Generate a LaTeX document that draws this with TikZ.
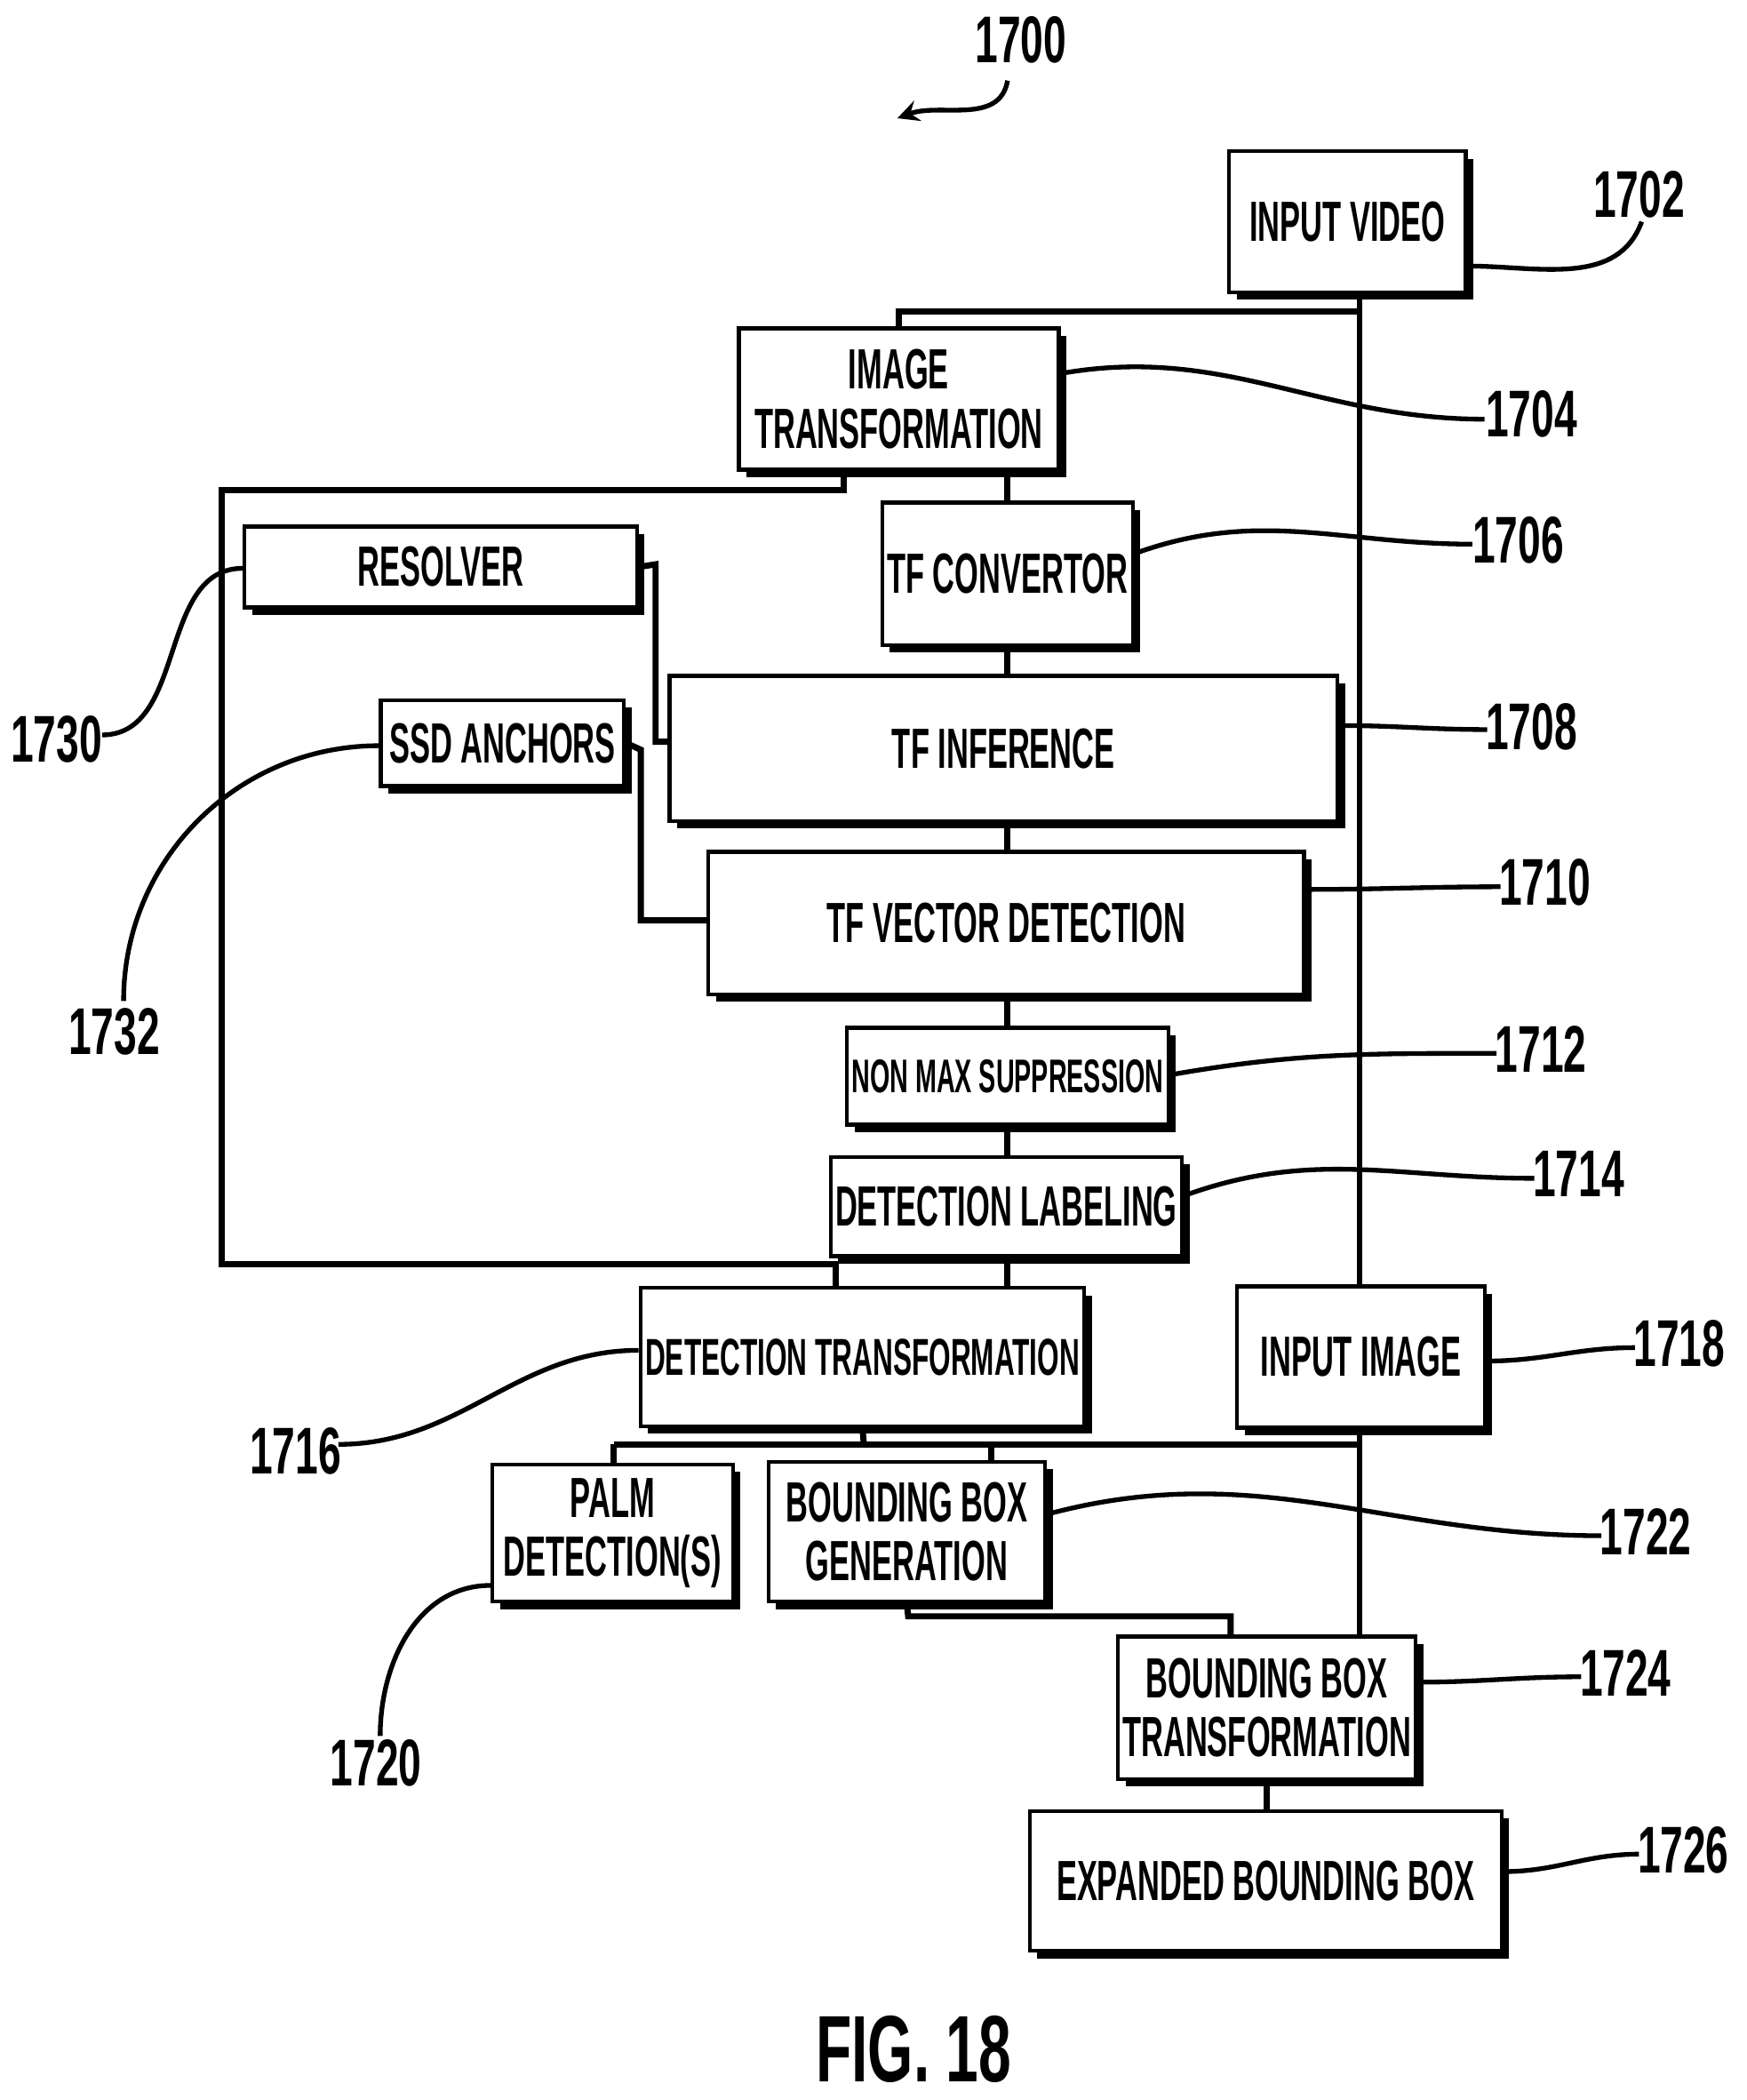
\documentclass[tikz,border=0pt]{standalone}
\usepackage{fontspec}
\setmainfont{Liberation Sans}[FakeStretch=0.54]
\newfontfamily\numfont{Liberation Sans}[FakeStretch=0.62]
\usetikzlibrary{shadows}
\begin{document}
\begin{tikzpicture}[x=0.01cm,y=-0.01cm,line width=1.3pt,
  blk/.style={rectangle,draw=black,fill=white,thick,align=center,inner sep=1pt,
    font=\fontsize{12}{12.5}\selectfont\bfseries,
    drop shadow={shadow xshift=1.6pt,shadow yshift=-1.6pt,fill=black,opacity=1}},
  lbl/.style={font=\numfont\fontsize{14}{15}\selectfont\bfseries},
  lead/.style={line width=1pt}]
\useasboundingbox (0,0) rectangle (1300,1563);
\path
(1003,165) node[blk,minimum width=1.76cm,minimum height=1.05cm] (video) {INPUT VIDEO}
(669,297) node[blk,minimum width=2.38cm,minimum height=1.05cm] (imgtf) {IMAGE\\TRANSFORMATION}
(750,427) node[blk,minimum width=1.76cm,minimum height=1.06cm] (tfconv) {TF CONVERTOR}
(328,422) node[blk,minimum width=2.92cm,minimum height=0.6cm] (resolver) {RESOLVER}
(374,553) node[blk,minimum width=1.81cm,minimum height=0.64cm] (ssd) {SSD ANCHORS}
(747,557) node[blk,minimum width=4.97cm,minimum height=1.08cm] (tfinf) {TF INFERENCE}
(749,687) node[blk,minimum width=4.43cm,minimum height=1.06cm] (tfvec) {TF VECTOR DETECTION}
(750,801) node[blk,minimum width=2.27cm,minimum height=0.72cm] (nms) {\fontsize{10}{11}\selectfont NON MAX SUPPRESSION}
(749,898) node[blk,minimum width=2.57cm,minimum height=0.74cm] (dlabel) {DETECTION LABELING}
(642,1010) node[blk,minimum width=2.98cm,minimum height=1.03cm] (dettf) {\fontsize{11}{12}\selectfont DETECTION TRANSFORMATION}
(1013,1010) node[blk,minimum width=1.84cm,minimum height=1.05cm] (inimg) {INPUT IMAGE}
(456,1141) node[blk,minimum width=1.79cm,minimum height=1.02cm] (palm) {PALM\\DETECTION(S)}
(675,1140) node[blk,minimum width=2.06cm,minimum height=1.04cm] (bbgen) {BOUNDING BOX\\GENERATION}
(943,1271) node[blk,minimum width=2.2cm,minimum height=1.06cm] (bbtf) {BOUNDING BOX\\TRANSFORMATION}
(942,1400) node[blk,minimum width=3.51cm,minimum height=1.04cm] (expbb) {EXPANDED BOUNDING BOX};

% trunk on the right
\draw (video.south -| 1012,0) -- (inimg.north -| 1012,0);
\draw (1012,232) -| (imgtf.north);
\draw (inimg.south -| 1012,0) -- (bbtf.north -| 1012,0);
% main chain
\draw (imgtf.south -| tfconv) -- (tfconv.north);
\draw (tfconv.south) -- (tfinf.north -| tfconv);
\draw (tfinf.south -| tfconv) -- (tfvec.north -| tfconv);
\draw (tfvec.south -| tfconv) -- (nms.north);
\draw (nms.south) -- (dlabel.north -| nms);
\draw (dlabel.south -| nms) -- (dettf.north -| nms);
% bypass loop
\draw (imgtf.south -| 628,0) -- (628,365) -- (165,365) -- (165,941) -- (622,941) -- (dettf.north -| 622,0);
\draw (resolver.east) -- (488,420) -- (488,552) -- (tfinf.west |- 0,552);
\draw (ssd.east) -- (477,558) -- (477,685) -- (tfvec.west |- 0,685);
% lower branches
\draw (dettf.south) -- (643,1075);
\draw (457,1075) -- (1012,1075);
\draw (457,1075) -- (palm.north -| 457,0);
\draw (738,1075) -- (bbgen.north -| 738,0);
\draw (bbgen.south) -- (676,1203) -- (916,1203) -- (bbtf.north -| 916,0);
\draw (bbtf.south) -- (expbb.north -| bbtf);

% reference numerals
\node[lbl] (n1700) at (760,30) {1700};
\draw[lead,-stealth] (750,60) to[out=-100,in=20] (668,88);
\node[lbl] (n1702) at (1220,145) {1702};
\draw[lead] (video.east |- 0,198) to[out=0,in=-110] (1222,165);
\node[lbl] (n1704) at (1140,308) {1704};
\draw[lead] (imgtf.east |- 0,278) to[out=10,in=180] (1105,312);
\node[lbl] (n1706) at (1130,402) {1706};
\draw[lead] (tfconv.east |- 0,412) to[out=20,in=180] (1096,405);
\node[lbl] (n1708) at (1140,541) {1708};
\draw[lead] (tfinf.east |- 0,540) to[out=0,in=180] (1107,543);
\node[lbl] (n1710) at (1150,657) {1710};
\draw[lead] (tfvec.east |- 0,662) to[out=0,in=180] (1117,660);
\node[lbl] (n1712) at (1147,781) {1712};
\draw[lead] (nms.east |- 0,800) to[out=10,in=180] (1114,784);
\node[lbl] (n1714) at (1175,874) {1714};
\draw[lead] (dlabel.east |- 0,890) to[out=20,in=180] (1142,877);
\node[lbl] (n1718) at (1250,1000) {1718};
\draw[lead] (inimg.east |- 0,1013) to[out=0,in=180] (1217,1003);
\node[lbl] (n1722) at (1225,1140) {1722};
\draw[lead] (bbgen.east |- 0,1127) to[out=15,in=180] (1192,1143);
\node[lbl] (n1724) at (1210,1245) {1724};
\draw[lead] (bbtf.east |- 0,1252) to[out=0,in=180] (1177,1248);
\node[lbl] (n1726) at (1253,1377) {1726};
\draw[lead] (expbb.east |- 0,1393) to[out=0,in=180] (1220,1380);
\node[lbl] (n1730) at (42,550) {1730};
\draw[lead] (resolver.west |- 0,423) to[out=180,in=0] (76,547);
\node[lbl] (n1732) at (85,768) {1732};
\draw[lead] (ssd.west |- 0,555) to[out=180,in=90] (92,745);
\node[lbl] (n1716) at (220,1080) {1716};
\draw[lead] (dettf.west |- 0,1005) to[out=180,in=0] (252,1075);
\node[lbl] (n1720) at (280,1312) {1720};
\draw[lead] (palm.west |- 0,1180) to[out=180,in=90] (283,1292);
\node[font=\numfont\fontsize{20}{22}\selectfont\bfseries] (fig) at (680,1525) {FIG. 18};
\end{tikzpicture}
\end{document}
